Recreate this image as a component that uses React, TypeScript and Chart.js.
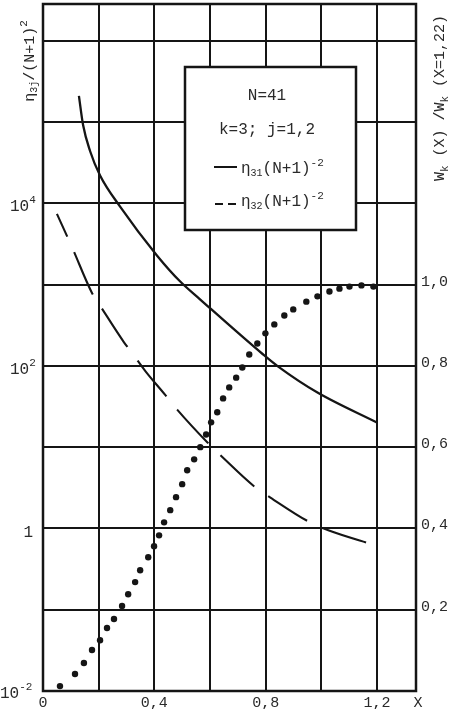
import React, { useEffect, useRef } from "react";
import { Chart, registerables } from "chart.js";

Chart.register(...registerables);

// ---- data ----
const solidX = [0.129, 0.144, 0.169, 0.205, 0.277, 0.41, 0.493, 0.565, 0.791, 0.845, 0.986, 1.201];
const solidY = [2.1e5, 9.2e4, 4.4e4, 2.2e4, 9.1e3, 2.27e3, 1.09e3, 655, 138, 98, 47, 20];

const dashX = [0.05, 0.104, 0.176, 0.209, 0.291, 0.324, 0.367, 0.439, 0.482, 0.59, 0.647, 0.763, 0.817, 0.957, 1.025, 1.194];
const dashY = [7400, 2900, 790, 525, 195, 138, 87, 44, 29, 11.5, 7.4, 3.2, 2.4, 1.2, 0.95, 0.62];

const dotX = [0.061, 0.115, 0.147, 0.176, 0.205, 0.23, 0.255, 0.284, 0.306, 0.331, 0.349, 0.378, 0.399, 0.417, 0.435, 0.457, 0.478, 0.5, 0.518, 0.543, 0.565, 0.586, 0.604, 0.626, 0.647, 0.669, 0.694, 0.716, 0.741, 0.77, 0.799, 0.831, 0.867, 0.899, 0.946, 0.986, 1.029, 1.065, 1.101, 1.144, 1.187];
const dotY = [0.012, 0.042, 0.069, 0.101, 0.125, 0.155, 0.177, 0.209, 0.238, 0.268, 0.297, 0.329, 0.356, 0.383, 0.415, 0.445, 0.477, 0.509, 0.543, 0.57, 0.6, 0.631, 0.661, 0.686, 0.72, 0.747, 0.771, 0.796, 0.828, 0.855, 0.88, 0.902, 0.924, 0.939, 0.958, 0.971, 0.983, 0.99, 0.995, 0.998, 0.995];

const xGridValues = [0, 0.2, 0.4, 0.6, 0.8, 1.0, 1.2];
const xLabelValues = [0, 0.4, 0.8, 1.2];
const xLabels = ["0", "0,4", "0,8", "1,2"];
const leftDecades = [-2, -1, 0, 1, 2, 3, 4, 5, 6];
const leftLabelExps = [-2, 0, 2, 4];
const rightLabelValues = [0.2, 0.4, 0.6, 0.8, 1.0];
const rightLabels = ["0,2", "0,4", "0,6", "0,8", "1,0"];

const X_MAX = 1.34;
const Y_MIN = 1e-2;
const Y_MAX = Math.pow(10, 6.452);
const R_MAX = 0.2 * Math.log10(Y_MAX / Y_MIN);

const FONT = "'Liberation Mono', 'DejaVu Sans Mono', monospace";
const INK = "#151515";
const TXT = "#2a2a2a";

type Part = { t: string; s: number; dy?: number };

function drawRich(ctx: CanvasRenderingContext2D, parts: Part[], x: number, y: number, align: "left" | "center" | "right") {
  let w = 0;
  for (const p of parts) {
    ctx.font = `${p.s}px ${FONT}`;
    w += ctx.measureText(p.t).width;
  }
  let cx = align === "left" ? x : align === "center" ? x - w / 2 : x - w;
  ctx.textAlign = "left";
  ctx.textBaseline = "alphabetic";
  for (const p of parts) {
    ctx.font = `${p.s}px ${FONT}`;
    ctx.fillText(p.t, cx, y + (p.dy || 0));
    cx += ctx.measureText(p.t).width;
  }
}

const decorPlugin = {
  id: "decor",
  afterDraw(chart: any) {
    const ctx: CanvasRenderingContext2D = chart.ctx;
    const a = chart.chartArea;
    const xs = chart.scales.x;
    const ys = chart.scales.y;
    const rs = chart.scales.y2;
    ctx.save();
    // frame
    ctx.strokeStyle = INK;
    ctx.lineWidth = 2.5;
    ctx.strokeRect(a.left, a.top, a.right - a.left, a.bottom - a.top);

    // legend box
    const bx = 185, by = 67, bw = 171, bh = 163;
    ctx.fillStyle = "#ffffff";
    ctx.fillRect(bx, by, bw, bh);
    ctx.lineWidth = 2.5;
    ctx.strokeRect(bx, by, bw, bh);
    ctx.fillStyle = TXT;
    drawRich(ctx, [{ t: "N=41", s: 16 }], 267, 100, "center");
    drawRich(ctx, [{ t: "k=3; j=1,2", s: 16 }], 267, 134, "center");
    ctx.strokeStyle = INK;
    ctx.lineWidth = 2;
    ctx.beginPath();
    ctx.moveTo(214, 167);
    ctx.lineTo(237, 167);
    ctx.stroke();
    ctx.beginPath();
    ctx.moveTo(215, 204);
    ctx.lineTo(223, 204);
    ctx.moveTo(228, 204);
    ctx.lineTo(236, 204);
    ctx.stroke();
    drawRich(ctx, [{ t: "η", s: 16 }, { t: "31", s: 10, dy: 3 }, { t: "(N+1)", s: 16 }, { t: "-2", s: 11, dy: -7 }], 241, 173, "left");
    drawRich(ctx, [{ t: "η", s: 16 }, { t: "32", s: 10, dy: 3 }, { t: "(N+1)", s: 16 }, { t: "-2", s: 11, dy: -7 }], 241, 206, "left");

    // x labels
    ctx.fillStyle = TXT;
    xLabelValues.forEach((v, i) => {
      drawRich(ctx, [{ t: xLabels[i], s: 15 }], xs.getPixelForValue(v), 707, "center");
    });
    drawRich(ctx, [{ t: "X", s: 15 }], 418, 707, "center");

    // left labels
    leftLabelExps.forEach((e) => {
      const py = ys.getPixelForValue(Math.pow(10, e));
      if (e === 0) {
        drawRich(ctx, [{ t: "1", s: 16 }], 33, py + 9, "right");
      } else if (e === -2) {
        drawRich(ctx, [{ t: "10", s: 16 }, { t: "-2", s: 11, dy: -8 }], 0, py + 7, "left");
      } else {
        drawRich(ctx, [{ t: "10", s: 16 }, { t: String(e), s: 11, dy: -8 }], 10, py + 8, "left");
      }
    });

    // right labels
    rightLabelValues.forEach((v, i) => {
      const py = rs.getPixelForValue(v);
      drawRich(ctx, [{ t: rightLabels[i], s: 15 }], 421, py + 1, "left");
    });

    // left title (rotated)
    ctx.save();
    ctx.translate(34, 61);
    ctx.rotate(-Math.PI / 2);
    drawRich(ctx, [{ t: "η", s: 15 }, { t: "3j", s: 10, dy: 3 }, { t: "/(N+1)", s: 15 }, { t: "2", s: 11, dy: -7 }], 0, 0, "center");
    ctx.restore();

    // right title (rotated)
    ctx.save();
    ctx.translate(444, 98);
    ctx.rotate(-Math.PI / 2);
    drawRich(ctx, [{ t: "W", s: 15 }, { t: "k", s: 11, dy: 4 }, { t: " (X) /W", s: 15 }, { t: "k", s: 11, dy: 4 }, { t: " (X=1,22)", s: 15 }], 0, 0, "center");
    ctx.restore();

    ctx.restore();
  },
};

export default function App() {
  const ref = useRef<HTMLCanvasElement | null>(null);
  useEffect(() => {
    if (!ref.current) return;
    const chart = new Chart(ref.current, {
      type: "line",
      data: {
        datasets: [
          {
            label: "eta31",
            data: solidX.map((x, i) => ({ x, y: solidY[i] })),
            yAxisID: "y",
            borderColor: INK,
            borderWidth: 2.3,
            pointRadius: 0,
            fill: false,
            cubicInterpolationMode: "monotone",
          },
          {
            label: "eta32",
            data: dashX.map((x, i) => ({ x, y: dashY[i] })),
            yAxisID: "y",
            borderColor: INK,
            borderWidth: 2.1,
            borderDash: [46, 17],
            borderDashOffset: 21,
            pointRadius: 0,
            fill: false,
            cubicInterpolationMode: "monotone",
          },
          {
            label: "W",
            data: dotX.map((x, i) => ({ x, y: dotY[i] })),
            yAxisID: "y2",
            showLine: false,
            pointRadius: 3.2,
            pointBorderWidth: 0,
            pointBackgroundColor: INK,
            borderColor: INK,
          },
        ],
      },
      options: {
        animation: false,
        responsive: false,
        devicePixelRatio: 1,
        events: [],
        layout: { padding: { top: 3, left: 0, right: 0, bottom: 0 } },
        plugins: { legend: { display: false }, tooltip: { enabled: false } },
        scales: {
          x: {
            type: "linear",
            min: 0,
            max: X_MAX,
            ticks: { display: false },
            border: { display: false },
            grid: { color: INK, lineWidth: 2, drawTicks: false },
            afterBuildTicks: (s: any) => {
              s.ticks = xGridValues.map((v) => ({ value: v }));
            },
            afterFit: (s: any) => {
              s.height = 18;
            },
          },
          y: {
            type: "logarithmic",
            position: "left",
            min: Y_MIN,
            max: Y_MAX,
            ticks: { display: false },
            border: { display: false },
            grid: { color: INK, lineWidth: 2, drawTicks: false },
            afterBuildTicks: (s: any) => {
              s.ticks = leftDecades.map((e) => ({ value: Math.pow(10, e), major: true }));
            },
            afterFit: (s: any) => {
              s.width = 43;
            },
          },
          y2: {
            type: "linear",
            position: "right",
            min: 0,
            max: R_MAX,
            ticks: { display: false },
            border: { display: false },
            grid: { display: false, drawTicks: false },
            afterFit: (s: any) => {
              s.width = 36;
            },
          },
        },
      },
      plugins: [decorPlugin],
    } as any);
    return () => chart.destroy();
  }, []);
  return (
    <div style={{ position: "fixed", left: 0, top: 0, width: 452, height: 709, background: "#fff" }}>
      <canvas ref={ref} width={452} height={709} style={{ display: "block" }} />
    </div>
  );
}
